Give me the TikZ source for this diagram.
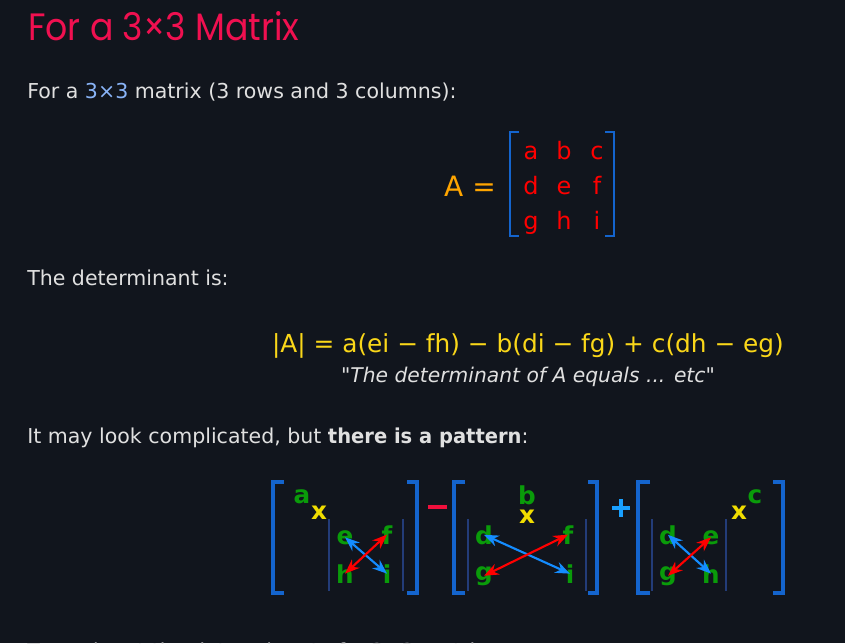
\documentclass[tikz,border=0pt]{standalone}
\usepackage{fontspec}
\setmainfont{DejaVu Sans}[Ligatures=TeXOff]
\newfontfamily\titlefont{Poppins}
\usetikzlibrary{arrows.meta}

\definecolor{bgdark}{RGB}{17,21,29}
\definecolor{titlered}{RGB}{240,16,80}
\definecolor{bodygray}{RGB}{224,224,224}
\definecolor{lightblue}{RGB}{137,180,248}
\definecolor{aorange}{RGB}{255,165,0}
\definecolor{entryred}{RGB}{255,0,0}
\definecolor{brakblue}{RGB}{20,100,205}
\definecolor{formyellow}{RGB}{250,215,25}
\definecolor{letgreen}{RGB}{10,155,10}
\definecolor{xyellow}{RGB}{240,220,0}
\definecolor{barnavy}{RGB}{35,60,120}
\definecolor{arrblue}{RGB}{20,140,255}
\definecolor{pluscyan}{RGB}{25,160,255}
\definecolor{minusred}{RGB}{240,15,60}

\tikzset{
  txt/.style={anchor=base west, inner sep=0pt, text=bodygray, font=\fontsize{15.4}{18}\selectfont},
  entry/.style={anchor=base, inner sep=0pt, text=entryred, font=\fontsize{18}{21}\selectfont},
  lt/.style={anchor=base, inner sep=0pt, text=letgreen, font=\bfseries\fontsize{18.5}{21}\selectfont},
  xmark/.style={lt, text=xyellow},
  thinbrak/.style={draw=brakblue, line width=1.8pt},
  brak/.style={draw=brakblue, line width=3pt},
  detbar/.style={draw=barnavy, line width=1.5pt},
  bluearr/.style={draw=arrblue, line width=1.6pt, {Stealth[length=11pt,width=8.5pt]}-{Stealth[length=11pt,width=8.5pt]}},
  redarr/.style={draw=entryred, line width=1.6pt, {Stealth[length=11pt,width=8.5pt]}-{Stealth[length=11pt,width=8.5pt]}}
}

\begin{document}
\begin{tikzpicture}[x=0.75pt, y=-0.75pt]
	\fill [bgdark] (0,0) rectangle (845,643);
	\useasboundingbox (0,0) rectangle (845,643);
	\clip (0,0) rectangle (845,643);
	% title and text
	\node [anchor=base west, inner sep=0pt, text=titlered, font=\titlefont\fontsize{26}{30}\selectfont] (title) at (28,40) {\scalebox{1}[1.1]{For a 3×3 Matrix}};
	\node [txt] (intro) at (27,98) {For a \textcolor{lightblue}{3×3} matrix (3 rows and 3 columns):};
	% the matrix
	\node [anchor=base, inner sep=0pt, text=aorange, font=\fontsize{21}{24}\selectfont] (aeq) at (470,196) {A =};
	\foreach \n/\x/\y in {a/531/159, b/564/159, c/597/159, d/531/194, e/564/194, f/597/194, g/531/229, h/564/229, i/597/229}
		\node [entry] (m\n) at (\x,\y) {\n};
	\draw [thinbrak] (519,132) -- (510,132) -- (510,236) -- (519,236);
	\draw [thinbrak] (605,132) -- (614,132) -- (614,236) -- (605,236);
	\node [txt] (detis) at (27,285) {The determinant is:};
	\node [anchor=base, inner sep=0pt, text=formyellow, font=\fontsize{18.6}{22}\selectfont] (formula) at (528,352) {|A| = a(ei − fh) − b(di − fg) + c(dh − eg)};
	\node [anchor=base, inner sep=0pt, text=bodygray, font=\itshape\fontsize{15.2}{18}\selectfont] (quote) at (528,382) {"The determinant of A equals ... etc"};
	\node [txt] (pattern) at (27,443) {It may look complicated, but \textbf{\scalebox{0.95}[1]{there is a pattern}}:};
	% first part
	\draw [brak] (284,482) -- (273,482) -- (273,593) -- (284,593);
	\draw [brak] (407,482) -- (417,482) -- (417,593) -- (407,593);
	\draw [detbar] (329,519) -- (329,591);
	\draw [detbar] (403,519) -- (403,591);
	\node [lt] (a1) at (302,503) {a};
	\node [xmark] (x1) at (319,519) {x};
	\node [lt] (e1) at (345,544) {e};
	\node [lt] (f1) at (387,544) {f};
	\node [lt] (h1) at (345,583) {h};
	\node [lt] (i1) at (387,583) {i};
	\draw [bluearr] (e1.center) -- (i1.center);
	\draw [redarr] (f1.center) -- (h1.center);
	\draw [minusred, line width=3.7pt] (428,507) -- (447,507);
	% second part
	\draw [brak] (465,482) -- (454,482) -- (454,593) -- (465,593);
	\draw [brak] (588,482) -- (597,482) -- (597,593) -- (588,593);
	\draw [detbar] (468,519) -- (468,591);
	\draw [detbar] (586,519) -- (586,591);
	\node [lt] (b2) at (527,504) {b};
	\node [xmark] (x2) at (527,523) {x};
	\node [lt] (d2) at (484,544) {d};
	\node [lt] (f2) at (568,544) {f};
	\node [lt] (g2) at (484,580) {g};
	\node [lt] (i2) at (570,583) {i};
	\draw [bluearr] (d2.center) -- (i2.center);
	\draw [redarr] (f2.center) -- (g2.center);
	\draw [pluscyan, line width=3.4pt] (612,508) -- (630,508) (621,499) -- (621,517);
	% third part
	\draw [brak] (650,482) -- (638,482) -- (638,593) -- (650,593);
	\draw [brak] (773,482) -- (783,482) -- (783,593) -- (773,593);
	\draw [detbar] (652,519) -- (652,591);
	\draw [detbar] (726,519) -- (726,591);
	\node [xmark] (x3) at (739,519) {x};
	\node [lt] (c3) at (755,503) {c};
	\node [lt] (d3) at (668,544) {d};
	\node [lt] (e3) at (711,544) {e};
	\node [lt] (g3) at (668,580) {g};
	\node [lt] (h3) at (711,583) {h};
	\draw [bluearr] (d3.center) -- (h3.center);
	\draw [redarr] (e3.center) -- (g3.center);
	% next line, cut off
	\node [txt] (howto) at (27,658) {To work out the determinant of a 3×3 matrix:};
\end{tikzpicture}
\end{document}
